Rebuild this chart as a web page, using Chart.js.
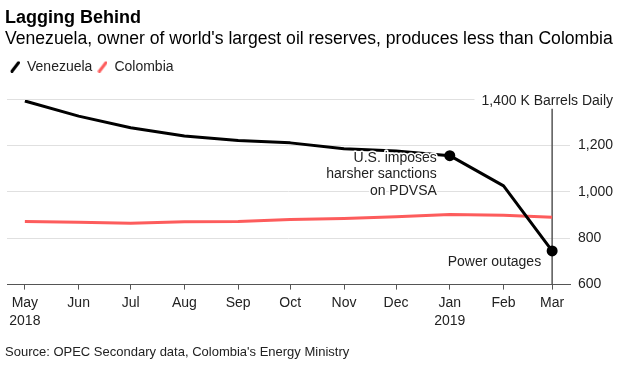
<!DOCTYPE html>
<html>
<head>
<meta charset="utf-8">
<script src="https://cdn.jsdelivr.net/npm/chart.js@4"></script>
<style>
  body { margin: 0; background: #fff; }
  #wrap { width: 626px; height: 369px; position: relative; }
</style>
</head>
<body>
<div id="wrap"><canvas id="grafico-petroleo"></canvas></div>
<script>
const meses = ["May", "Jun", "Jul", "Aug", "Sep", "Oct", "Nov", "Dec", "Jan", "Feb", "Mar"];
const anos = ["2018", "", "", "", "", "", "", "", "2019", "", ""];
const datas = ["2018-05-01", "2018-06-01", "2018-07-01", "2018-08-01", "2018-09-01", "2018-10-01",
               "2018-11-01", "2018-12-01", "2019-01-01", "2019-02-01", "2019-03-01"];
const venezuela = [1390, 1325, 1275, 1240, 1220, 1210, 1185, 1175, 1155, 1025, 745];
const colombia = [872, 868, 864, 871, 872, 880, 884, 892, 902, 898, 890];
const valoresY = [600, 800, 1000, 1200, 1400];
const rotuloTopo = "1,400 K Barrels Daily";
const notas = [
    { indice: 8, linhas: ["U.S. imposes", "harsher sanctions", "on PDVSA"] },
    { indice: 10, linhas: ["Power outages"] }
];
const fonte = "Source: OPEC Secondary data, Colombia's Energy Ministry";

const dia = s => Date.parse(s) / 864e5;
const diasX = datas.map(dia);

Chart.defaults.font.family = '"Liberation Sans", Arial, sans-serif';
Chart.defaults.color = "#222";

// little slanted line used as legend key
function iconeLegenda(cor) {
    const c = document.createElement("canvas");
    c.width = 10;
    c.height = 12;
    const g = c.getContext("2d");
    g.strokeStyle = cor;
    g.lineWidth = 3;
    g.lineCap = "round";
    g.beginPath();
    g.moveTo(2, 10.5);
    g.lineTo(8.5, 2);
    g.stroke();
    return c;
}

const extras = {
    id: "extras",
    // extra gap between the legend and the plot
    beforeLayout(chart) {
        const lg = chart.legend;
        if (lg && !lg._espaco) {
            const fitOrig = lg.fit.bind(lg);
            lg.fit = function () { fitOrig(); this.height += 15; };
            lg._espaco = true;
        }
    },
    beforeDatasetsDraw(chart) {
        const { ctx, chartArea, scales: { x, y } } = chart;
        const xMar = x.getPixelForValue(diasX[diasX.length - 1]);
        ctx.save();
        ctx.strokeStyle = "#555";
        ctx.lineWidth = 1.5;
        ctx.beginPath();
        ctx.moveTo(xMar, y.getPixelForValue(1400) + 10);
        ctx.lineTo(xMar, chartArea.bottom);
        ctx.stroke();
        ctx.restore();
    },
    afterDatasetsDraw(chart) {
        const { ctx, chartArea, scales: { x, y } } = chart;
        const vEl = chart.getDatasetMeta(0).data;
        ctx.save();
        ctx.font = '14px "Liberation Sans", Arial, sans-serif';
        ctx.fillStyle = "#222";
        ctx.textBaseline = "middle";

        // top tick label with unit, gridline stops before it
        const yTopo = y.getPixelForValue(1400);
        const fimTexto = chart.width - 13;
        ctx.textAlign = "right";
        const larg = ctx.measureText(rotuloTopo).width;
        ctx.strokeStyle = "#e0e0e0";
        ctx.lineWidth = 1;
        ctx.beginPath();
        ctx.moveTo(chartArea.left, Math.round(yTopo) + 0.5);
        ctx.lineTo(fimTexto - larg - 7, Math.round(yTopo) + 0.5);
        ctx.stroke();
        ctx.fillText(rotuloTopo, fimTexto, yTopo + 2);

        // notes next to the marked points, white halo over the line
        ctx.strokeStyle = "#fff";
        ctx.lineWidth = 3;
        ctx.lineJoin = "round";
        notas.forEach(n => {
            const p = vEl[n.indice];
            const dx = n.indice === 8 ? -13 : -11;
            const dy = n.indice === 8 ? 2 : 11;
            n.linhas.forEach((l, i) => {
                ctx.strokeText(l, p.x + dx, p.y + dy + i * 16.5);
                ctx.fillText(l, p.x + dx, p.y + dy + i * 16.5);
            });
        });

        ctx.textAlign = "left";
        ctx.font = '13px "Liberation Sans", Arial, sans-serif';
        ctx.fillText(fonte, 5, 352);
        ctx.restore();
    }
};

new Chart(document.getElementById("grafico-petroleo"), {
    type: "line",
    data: {
        datasets: [
            {
                label: "Venezuela",
                data: venezuela.map((v, i) => ({ x: diasX[i], y: v })),
                borderColor: "#000",
                backgroundColor: "#000",
                borderWidth: 3,
                tension: 0,
                borderJoinStyle: "round",
                pointRadius: ctx => notas.some(n => n.indice === ctx.dataIndex) ? 4 : 0,
                pointHoverRadius: 4
            },
            {
                label: "Colombia",
                data: colombia.map((v, i) => ({ x: diasX[i], y: v })),
                borderColor: "#fd5c5c",
                backgroundColor: "#fd5c5c",
                borderWidth: 3,
                tension: 0,
                borderJoinStyle: "round",
                pointRadius: 0
            }
        ]
    },
    options: {
        responsive: true,
        maintainAspectRatio: false,
        animation: false,
        layout: { padding: { left: 5, right: 0, top: 0, bottom: 35 } },
        plugins: {
            title: {
                display: true,
                text: "Lagging Behind",
                align: "start",
                color: "#000",
                font: { size: 18, weight: "bold" },
                padding: { top: 7, bottom: 0 }
            },
            subtitle: {
                display: true,
                text: "Venezuela, owner of world's largest oil reserves, produces less than Colombia",
                align: "start",
                color: "#000",
                font: { size: 17.6 },
                padding: { top: 0, bottom: 5 }
            },
            legend: {
                align: "start",
                labels: {
                    usePointStyle: true,
                    pointStyleWidth: 10,
                    padding: 5,
                    font: { size: 14 },
                    generateLabels(chart) {
                        const itens = Chart.defaults.plugins.legend.labels.generateLabels(chart);
                        itens.forEach(it => { it.pointStyle = iconeLegenda(chart.data.datasets[it.datasetIndex].borderColor); });
                        return itens;
                    }
                }
            },
            tooltip: { enabled: false }
        },
        scales: {
            x: {
                type: "linear",
                min: diasX[0] - 10.3,
                max: diasX[diasX.length - 1] + 10.3,
                afterBuildTicks: s => { s.ticks = diasX.map(v => ({ value: v })); },
                ticks: {
                    autoSkip: false,
                    maxRotation: 0,
                    padding: 4,
                    font: { size: 14, lineHeight: 1.3 },
                    callback: (v, i) => [meses[i], anos[i]]
                },
                grid: { drawOnChartArea: false, drawTicks: true, tickLength: 5, color: "#555" },
                border: { display: true, color: "#555" }
            },
            y: {
                position: "right",
                min: 600,
                max: 1400,
                afterBuildTicks: s => { s.ticks = valoresY.map(v => ({ value: v })); },
                afterFit: s => { s.width = 56; },
                ticks: {
                    padding: 8,
                    font: { size: 14 },
                    callback: v => v === 1400 ? "" : v.toLocaleString("en-US")
                },
                grid: {
                    drawTicks: false,
                    color: c => (c.tick && (c.tick.value === 1400 || c.tick.value === 600)) ? "rgba(0,0,0,0)" : "#e0e0e0"
                },
                border: { display: false }
            }
        }
    },
    plugins: [extras]
});
</script>
</body>
</html>
